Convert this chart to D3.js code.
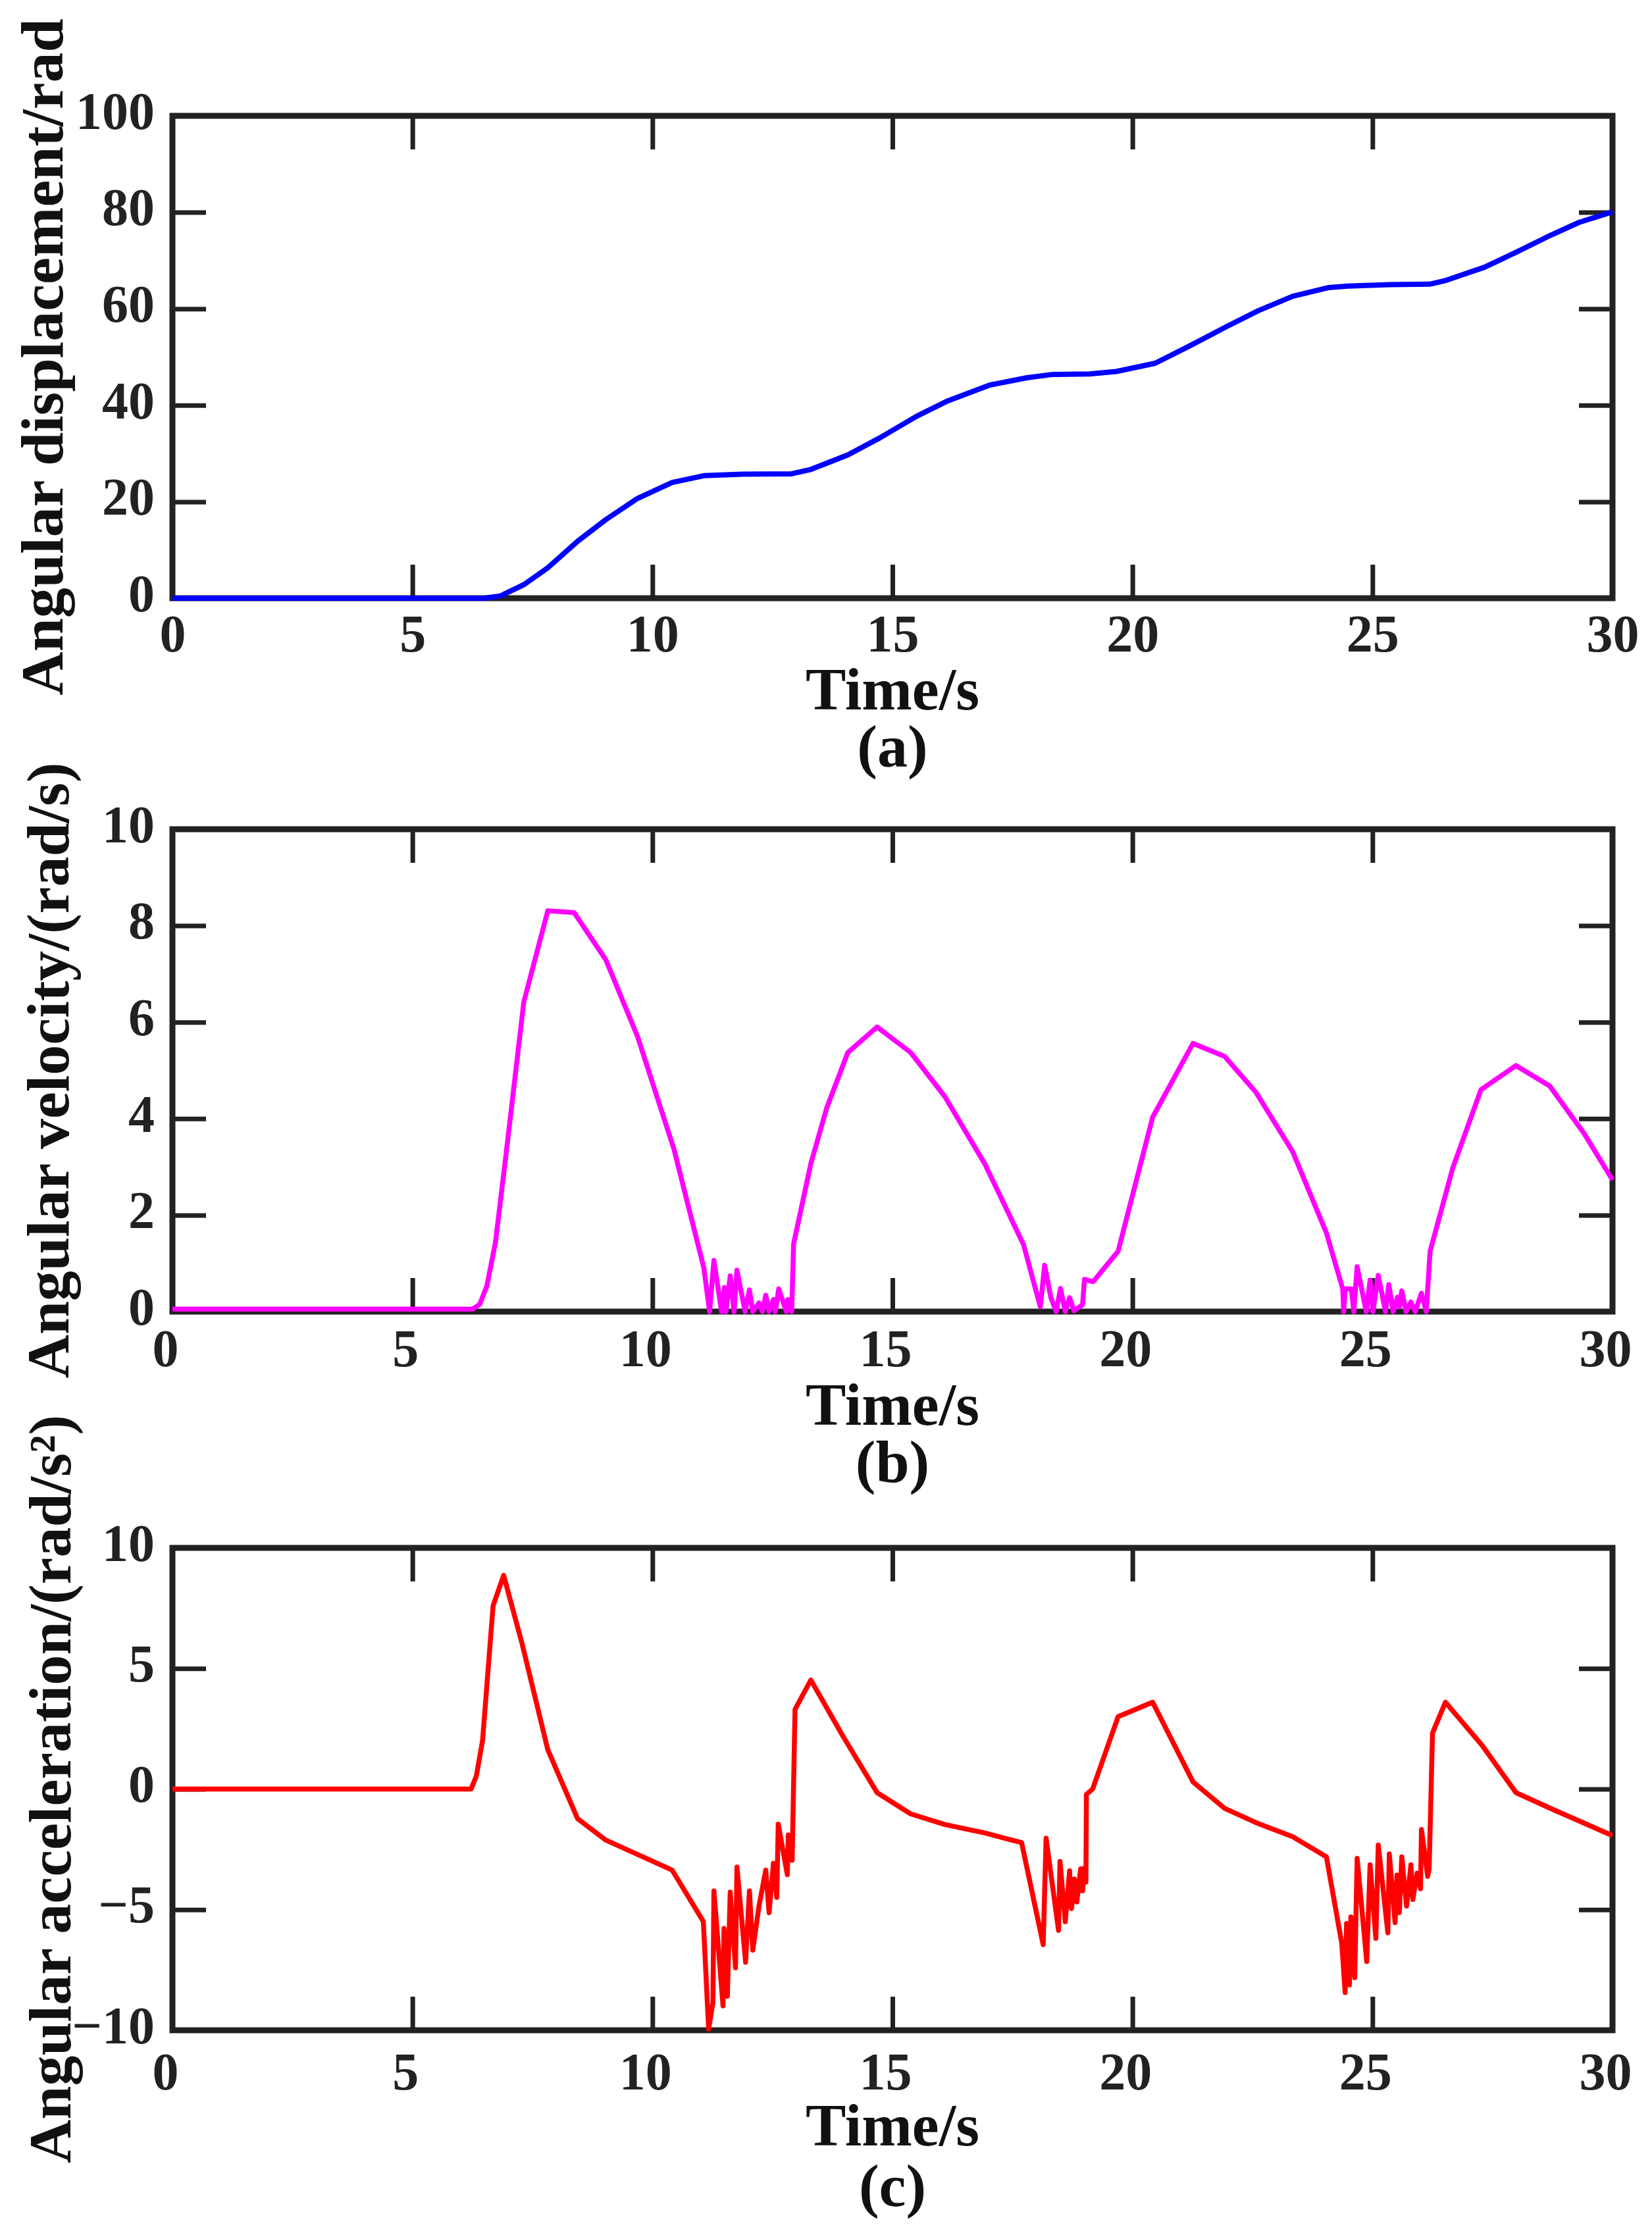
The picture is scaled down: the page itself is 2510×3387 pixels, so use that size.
<!DOCTYPE html>
<html>
<head>
<meta charset="utf-8">
<script src="https://cdn.jsdelivr.net/npm/d3@7"></script>
<style>
  body { margin: 0; background: #fff; }
  text { font-family: "Liberation Serif", "Times New Roman", serif; font-weight: bold; }
</style>
</head>
<body>
<div id="chart-area"></div>
<script>
// tick values
const timeTicks = [0, 5, 10, 15, 20, 25, 30];
const dispTicks = [0, 20, 40, 60, 80, 100];
const velTicks = [0, 2, 4, 6, 8, 10];
const accTicks = [-10, -5, 0, 5, 10];

// (a) angular displacement, rad
const dispTime = [0, 6.5, 6.84, 7.32, 7.82, 8.44, 9.03, 9.69, 10.41, 11.07,
  11.88, 12.9, 13.3, 14.07, 14.73, 15.5, 16.15, 17.03, 17.8, 18.34,
  19.1, 19.66, 20.47, 21.19, 21.96, 22.62, 23.34, 24.09, 24.48, 25.36,
  26.19, 26.5, 27.33, 27.99, 28.64, 29.3, 30];
const dispValues = [0, 0, 0.5, 2.8, 6.3, 11.8, 16.3, 20.7, 24.0, 25.4,
  25.7, 25.8, 26.7, 29.7, 33.2, 37.7, 40.9, 44.2, 45.7, 46.4,
  46.5, 47.0, 48.7, 52.3, 56.3, 59.6, 62.6, 64.4, 64.7, 65.0,
  65.1, 65.8, 68.6, 71.7, 74.9, 77.9, 80.1];

// (b) angular velocity, rad/s
const velTime = [0, 6.25, 6.4, 6.55, 6.73, 6.95, 7.32, 7.82, 8.37, 9.03,
  9.69, 10.45, 11.07, 11.19, 11.28, 11.44, 11.5, 11.53, 11.62, 11.7,
  11.76, 11.93, 12.02, 12.09, 12.22, 12.29, 12.36, 12.43, 12.52, 12.56,
  12.63, 12.79, 12.82, 12.9, 12.94, 13.3, 13.63, 14.07, 14.68, 15.38,
  16.09, 16.92, 17.73, 18.08, 18.17, 18.3, 18.41, 18.5, 18.6, 18.69,
  18.78, 18.96, 19.0, 19.18, 19.7, 20.42, 21.26, 21.92, 22.57, 23.34,
  24.04, 24.38, 24.4, 24.43, 24.56, 24.61, 24.68, 24.87, 24.95, 25.01,
  25.12, 25.27, 25.34, 25.43, 25.52, 25.56, 25.61, 25.7, 25.8, 25.89,
  26.02, 26.12, 26.2, 26.67, 27.26, 27.99, 28.69, 29.41, 30];
const velValues = [0.05, 0.05, 0.15, 0.53, 1.44, 3.26, 6.42, 8.31, 8.27, 7.29,
  5.7, 3.36, 0.91, 0, 1.06, 0, 0.5, 0, 0.74, 0,
  0.86, 0, 0.45, 0, 0.18, 0, 0.34, 0, 0.25, 0,
  0.47, 0, 0.25, 0, 1.4, 3.07, 4.22, 5.37, 5.9, 5.37,
  4.46, 3.07, 1.39, 0.1, 0.96, 0.29, 0, 0.48, 0, 0.29,
  0.02, 0.14, 0.67, 0.62, 1.25, 4.03, 5.56, 5.29, 4.55, 3.31,
  1.63, 0.47, 0, 0.47, 0.47, 0, 0.93, 0, 0.65, 0,
  0.75, 0, 0.56, 0, 0.3, 0.1, 0.43, 0, 0.2, 0,
  0.38, 0, 1.25, 2.97, 4.6, 5.1, 4.68, 3.69, 2.73];

// (c) angular acceleration, rad/s^2
const accTime = [0, 6.22, 6.33, 6.46, 6.68, 6.9, 7.28, 7.82, 8.44, 9.03,
  9.69, 10.41, 11.06, 11.17, 11.26, 11.28, 11.47, 11.49, 11.56, 11.62,
  11.73, 11.76, 11.94, 12.02, 12.09, 12.22, 12.36, 12.43, 12.52, 12.59,
  12.62, 12.81, 12.83, 12.91, 12.97, 13.3, 13.96, 14.68, 15.38, 16.09,
  16.92, 17.69, 18.14, 18.2, 18.46, 18.49, 18.6, 18.69, 18.73, 18.79,
  18.84, 18.92, 18.96, 19.0, 19.03, 19.04, 19.17, 19.7, 20.42, 21.26,
  21.92, 22.57, 23.34, 24.04, 24.36, 24.43, 24.46, 24.52, 24.55, 24.63,
  24.68, 24.88, 24.95, 25.07, 25.12, 25.32, 25.35, 25.47, 25.51, 25.56,
  25.61, 25.71, 25.8, 25.84, 25.93, 26.0, 26.02, 26.15, 26.18, 26.25,
  26.52, 27.28, 27.99, 28.75, 30];
const accValues = [0, 0, 0.53, 2.0, 7.6, 8.86, 6.06, 1.63, -1.23, -2.12,
  -2.71, -3.36, -5.49, -9.95, -8.86, -4.22, -8.99, -5.78, -8.59, -4.27,
  -7.41, -3.23, -7.18, -4.22, -6.68, -4.85, -3.36, -5.13, -3.08, -4.49,
  -1.45, -3.55, -1.9, -2.95, 3.3, 4.52, 2.22, -0.15, -1.03, -1.47,
  -1.82, -2.22, -6.45, -2.04, -5.86, -3.0, -5.5, -3.39, -4.95, -3.73,
  -4.68, -3.31, -4.22, -3.27, -3.86, -0.22, 0.0, 3.0, 3.6, 0.3,
  -0.8, -1.39, -1.98, -2.81, -6.4, -8.44, -5.57, -8.12, -5.3, -7.82,
  -2.87, -7.15, -3.14, -6.19, -2.32, -5.96, -2.69, -5.54, -3.57, -5.12,
  -2.81, -4.85, -3.14, -4.58, -3.49, -4.13, -1.68, -3.62, -3.3, 2.32,
  3.6, 1.82, -0.15, -0.84, -1.93];

const width = 2510, height = 3387;
const left = 262, right = 2450, plotH = 733, tickLen = 51;
const axisColor = "#222";

const panels = [
  { top: 176, domain: [0, 100], ticks: dispTicks, time: dispTime, values: dispValues,
    color: "#0000ff", lw: 8, yLabel: "Angular displacement/rad", labelX: 95,
    xPad: 24, xShift: 0, titleDy: 169, capDy: 256, cap: "(a)" },
  { top: 1260, domain: [0, 10], ticks: velTicks, time: velTime, values: velValues,
    color: "#ff00ff", lw: 7.5, yLabel: "Angular velocity/(rad/s)", labelX: 104,
    xPad: 26, xShift: -11, titleDy: 172, capDy: 259, cap: "(b)" },
  { top: 2352, domain: [-10, 10], ticks: accTicks, time: accTime, values: accValues,
    color: "#ff0000", lw: 7.5, yLabel: "Angular acceleration/(rad/s\u00b2)", labelX: 107,
    xPad: 33, xShift: -11, titleDy: 175, capDy: 267, cap: "(c)" }
];

const svg = d3.select("#chart-area")
  .append("svg")
  .attr("width", width)
  .attr("height", height)
  .style("background", "#fff");

const x = d3.scaleLinear().domain([0, 30]).range([left, right]);

panels.forEach(p => {
  const bottom = p.top + plotH;
  const y = d3.scaleLinear().domain(p.domain).range([bottom, p.top]);
  const g = svg.append("g");

  function styleAxis(sel) {
    sel.attr("font-family", null).attr("font-size", 80).attr("color", axisColor);
    sel.select(".domain").remove();
    sel.selectAll(".tick line").attr("stroke-width", 7);
  }

  // inward ticks on all four sides
  g.append("g")
    .attr("transform", `translate(0, ${bottom})`)
    .call(d3.axisBottom(x).tickValues(timeTicks).tickSize(-tickLen).tickPadding(p.xPad))
    .call(styleAxis)
    .selectAll("text").attr("dx", p.xShift);

  g.append("g")
    .attr("transform", `translate(0, ${p.top})`)
    .call(d3.axisTop(x).tickValues(timeTicks).tickSize(-tickLen).tickFormat(""))
    .call(styleAxis);

  g.append("g")
    .attr("transform", `translate(${left}, 0)`)
    .call(d3.axisLeft(y).tickValues(p.ticks).tickSize(-tickLen).tickPadding(27))
    .call(styleAxis)
    .selectAll("text").attr("dy", "0.24em");

  g.append("g")
    .attr("transform", `translate(${right}, 0)`)
    .call(d3.axisRight(y).tickValues(p.ticks).tickSize(-tickLen).tickFormat(""))
    .call(styleAxis);

  // frame
  g.append("rect")
    .attr("x", left)
    .attr("y", p.top)
    .attr("width", right - left)
    .attr("height", plotH)
    .attr("fill", "none")
    .attr("stroke", axisColor)
    .attr("stroke-width", 9);

  // the curve
  const line = d3.line().x(d => x(d[0])).y(d => y(d[1]));
  g.append("path")
    .datum(d3.zip(p.time, p.values))
    .attr("fill", "none")
    .attr("stroke", p.color)
    .attr("stroke-width", p.lw)
    .attr("stroke-linejoin", "round")
    .attr("d", line);

  // y-axis label
  g.append("text")
    .attr("transform", `translate(${p.labelX}, ${p.top + plotH / 2}) rotate(-90)`)
    .attr("text-anchor", "middle")
    .attr("font-size", 92)
    .attr("fill", "#111")
    .text(p.yLabel);

  // x-axis label
  g.append("text")
    .attr("x", (left + right) / 2)
    .attr("y", bottom + p.titleDy)
    .attr("text-anchor", "middle")
    .attr("font-size", 92)
    .attr("fill", "#111")
    .text("Time/s");

  // panel caption
  g.append("text")
    .attr("x", (left + right) / 2)
    .attr("y", bottom + p.capDy)
    .attr("text-anchor", "middle")
    .attr("font-size", 92)
    .attr("fill", "#111")
    .text(p.cap);
});
</script>
</body>
</html>
